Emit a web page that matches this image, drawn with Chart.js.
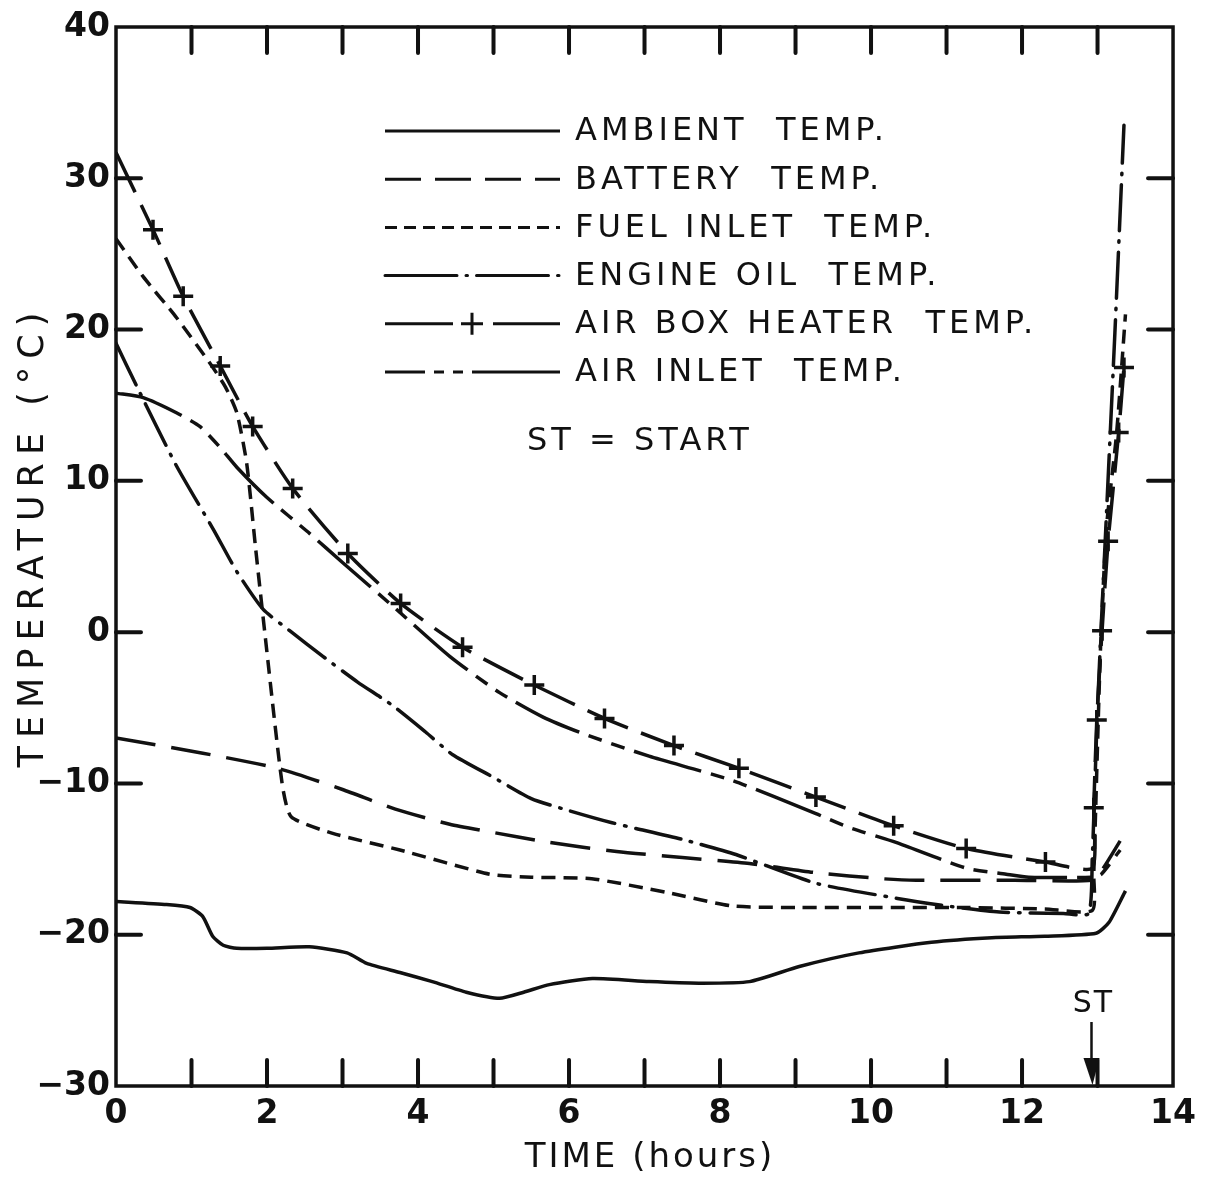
<!DOCTYPE html>
<html>
<head>
<meta charset="utf-8">
<script src="https://cdn.jsdelivr.net/npm/chart.js@4.4.1/dist/chart.umd.min.js"></script>
<style>
  html, body { margin: 0; padding: 0; background: #fff; }
  #chart { display: block; }
</style>
</head>
<body>
<canvas id="chart" width="1205" height="1179"></canvas>
<script>
// values: time in hours, temperature in deg C
const ambientX = [0, 0.67, 0.98, 1.15, 1.28, 1.42, 1.6, 2.0, 2.56, 3.06, 3.32, 3.76, 4.19, 4.64, 5.08, 5.4, 5.74, 6.31, 7.06, 7.72, 8.39, 9.05, 9.84, 10.8, 11.6, 12.3, 12.98, 13.15, 13.37];
const ambientY = [-17.8, -18.0, -18.2, -18.8, -20.1, -20.7, -20.9, -20.9, -20.8, -21.2, -21.9, -22.5, -23.1, -23.8, -24.2, -23.8, -23.3, -22.9, -23.1, -23.2, -23.1, -22.1, -21.2, -20.5, -20.2, -20.1, -19.9, -19.2, -17.1];

const batteryX = [0, 1.15, 2.14, 3.0, 3.7, 4.42, 4.95, 5.74, 6.63, 7.5, 8.39, 9.27, 10.15, 10.6, 11.9, 12.93, 13.05, 13.3];
const batteryY = [-7.0, -8.0, -9.0, -10.4, -11.7, -12.7, -13.2, -13.9, -14.5, -14.9, -15.3, -15.9, -16.3, -16.4, -16.4, -16.4, -15.8, -13.8];

const fuelX = [0, 0.36, 0.8, 1.24, 1.45, 1.6, 1.73, 1.85, 1.97, 2.2, 2.32, 2.87, 3.76, 4.95, 5.5, 6.3, 7.29, 8.16, 9.05, 10.0, 11.26, 12.3, 12.93, 12.95, 13.04, 13.12, 13.25, 13.37];
const fuelY = [26.0, 23.5, 20.8, 17.8, 16.2, 14.5, 11.2, 5.5, 0, -10.0, -12.2, -13.3, -14.4, -16.0, -16.2, -16.3, -17.2, -18.1, -18.2, -18.2, -18.2, -18.3, -18.4, -16.0, -1.0, 7.0, 13.0, 21.0];

const oilX = [0, 0.28, 0.8, 1.3, 1.6, 1.95, 2.3, 2.74, 3.2, 3.65, 4.1, 4.46, 5.0, 5.5, 6.0, 6.57, 7.5, 8.21, 9.27, 10.35, 11.0, 11.7, 12.55, 12.88, 12.93, 13.0, 13.12, 13.23, 13.35];
const oilY = [19.1, 16.2, 11.0, 6.7, 4.0, 1.5, 0.1, -1.6, -3.3, -4.8, -6.6, -8.1, -9.6, -11.0, -11.8, -12.6, -13.7, -14.7, -16.6, -17.6, -18.1, -18.5, -18.6, -18.6, -15.0, -5.0, 8.0, 19.8, 33.5];

const heaterX = [0, 0.49, 0.89, 1.38, 1.81, 2.34, 3.07, 3.77, 4.59, 5.54, 6.47, 7.39, 8.25, 9.27, 10.3, 11.26, 12.31, 12.93, 12.95, 12.99, 13.06, 13.14, 13.28, 13.35];
const heaterY = [31.7, 26.6, 22.2, 17.6, 13.6, 9.5, 5.2, 1.9, -1.0, -3.5, -5.7, -7.5, -9.0, -10.9, -12.8, -14.3, -15.2, -15.6, -11.6, -5.8, 0.1, 6.0, 13.2, 17.5];

const airInletX = [0, 0.36, 0.8, 1.11, 1.38, 1.6, 2.0, 2.57, 3.0, 3.67, 4.42, 5.08, 5.65, 6.18, 7.06, 8.16, 9.27, 9.7, 10.33, 11.26, 11.79, 12.09, 12.93, 13.05, 13.3];
const airInletY = [15.8, 15.5, 14.5, 13.6, 12.2, 10.9, 8.9, 6.5, 4.6, 1.7, -1.6, -4.0, -5.6, -6.7, -8.2, -9.8, -12.0, -12.9, -13.9, -15.6, -16.0, -16.2, -16.2, -16.0, -14.4];

const legendLabels = ['AMBIENT  TEMP.', 'BATTERY  TEMP.', 'FUEL INLET  TEMP.', 'ENGINE OIL  TEMP.', 'AIR BOX HEATER  TEMP.', 'AIR INLET  TEMP.'];
const startHour = 12.92;

const INK = '#111';
const FONT = "'DejaVu Sans', 'Liberation Sans', sans-serif";

function pts(xs, ys) {
  return xs.map((x, i) => ({ x: x, y: ys[i] }));
}

function lineSet(label, xs, ys, dash, legendDash, extra) {
  return Object.assign({
    label: label,
    data: pts(xs, ys),
    borderColor: INK,
    backgroundColor: INK,
    borderWidth: 3.5,
    borderDash: dash,
    legendDash: legendDash,
    tension: 0.2,
    pointRadius: 0,
    fill: false
  }, extra || {});
}

const datasets = [
  lineSet(legendLabels[0], ambientX, ambientY, [], []),
  lineSet(legendLabels[1], batteryX, batteryY, [40, 16], [36, 14]),
  lineSet(legendLabels[2], fuelX, fuelY, [14, 8], [12, 7]),
  lineSet(legendLabels[3], oilX, oilY, [46, 10, 1.5, 10], [72, 9, 1.5, 9], { borderCapStyle: 'round' }),
  lineSet(legendLabels[4], heaterX, heaterY, [44, 14], [68, 40], {
    pointStyle: 'cross',
    pointRadius: ctx => (ctx.dataIndex === 0 || ctx.dataIndex === 17) ? 0 : 10,
    pointBorderWidth: 3.5,
    pointBorderColor: INK
  }),
  lineSet(legendLabels[5], airInletX, airInletY, [70, 10, 14, 10, 14, 10], [40, 9, 10, 9, 10, 9, 88])
];

// draws the closed frame, inward ticks, legend block, axis titles and the ST arrow
const decorPlugin = {
  id: 'decor',
  afterDatasetsDraw(chart) {
    const { ctx, chartArea: a, scales: { x, y } } = chart;
    ctx.save();
    ctx.strokeStyle = INK;
    ctx.fillStyle = INK;
    ctx.setLineDash([]);
    ctx.lineWidth = 3.5;
    ctx.strokeRect(a.left, a.top, a.right - a.left, a.bottom - a.top);

    ctx.lineWidth = 4;
    ctx.lineCap = 'round';
    ctx.beginPath();
    x.ticks.forEach(t => {
      if (t.value <= x.min || t.value >= x.max) return;
      const px = x.getPixelForValue(t.value);
      ctx.moveTo(px, a.top); ctx.lineTo(px, a.top + 26);
      ctx.moveTo(px, a.bottom); ctx.lineTo(px, a.bottom - 26);
    });
    y.ticks.forEach(t => {
      if (t.value <= y.min || t.value >= y.max) return;
      const py = y.getPixelForValue(t.value);
      ctx.moveTo(a.left, py); ctx.lineTo(a.left + 25, py);
      ctx.moveTo(a.right, py); ctx.lineTo(a.right - 25, py);
    });
    ctx.stroke();

    // legend
    ctx.lineCap = 'butt';
    ctx.font = '32px ' + FONT;
    ctx.letterSpacing = '4px';
    ctx.textBaseline = 'middle';
    ctx.textAlign = 'left';
    chart.data.datasets.forEach((ds, i) => {
      const ry = 131 + i * 48.2;
      ctx.lineWidth = 3;
      ctx.lineCap = ds.borderCapStyle || 'butt';
      ctx.setLineDash(ds.legendDash);
      ctx.beginPath();
      ctx.moveTo(385, ry); ctx.lineTo(560, ry);
      ctx.stroke();
      ctx.setLineDash([]);
      if (ds.pointStyle === 'cross') {
        ctx.beginPath();
        ctx.moveTo(472, ry - 11); ctx.lineTo(472, ry + 11);
        ctx.moveTo(461, ry); ctx.lineTo(483, ry);
        ctx.stroke();
      }
      ctx.fillText(ds.label, 575, ry + 1);
    });
    ctx.fillText('ST = START', 527, 442);

    // axis titles
    ctx.font = '34px ' + FONT;
    ctx.letterSpacing = '3px';
    ctx.textAlign = 'center';
    ctx.fillText('TIME (hours)', 650, 1158);
    ctx.save();
    ctx.translate(34, 536);
    ctx.rotate(-Math.PI / 2);
    ctx.font = '35px ' + FONT;
    ctx.letterSpacing = '8px';
    ctx.fillText('TEMPERATURE (°C)', 0, 0);
    ctx.restore();

    // start marker
    const sx = x.getPixelForValue(startHour);
    ctx.font = '30px ' + FONT;
    ctx.letterSpacing = '2px';
    ctx.fillText('ST', sx + 2, 1004);
    ctx.lineWidth = 2.5;
    ctx.beginPath();
    ctx.moveTo(sx, 1022); ctx.lineTo(sx, 1062);
    ctx.stroke();
    ctx.beginPath();
    ctx.moveTo(sx - 8, 1058); ctx.lineTo(sx + 8, 1058); ctx.lineTo(sx + 1, a.bottom - 1);
    ctx.closePath();
    ctx.fill();
    ctx.restore();
  }
};

new Chart(document.getElementById('chart'), {
  type: 'line',
  data: { datasets: datasets },
  options: {
    responsive: false,
    animation: false,
    events: [],
    layout: { padding: { top: 27, right: 30, left: 0, bottom: 0 } },
    plugins: { legend: { display: false }, tooltip: { enabled: false } },
    scales: {
      x: {
        type: 'linear',
        min: 0,
        max: 14,
        grid: { display: false, drawTicks: false },
        border: { display: false },
        ticks: {
          stepSize: 1,
          autoSkip: false,
          maxRotation: 0,
          padding: 9,
          color: INK,
          font: { family: FONT, size: 33, weight: 'bold' },
          callback: v => (v % 2 === 0 ? String(v) : '')
        },
        afterFit: s => { s.height = 93; }
      },
      y: {
        min: -30,
        max: 40,
        grid: { display: false, drawTicks: false },
        border: { display: false },
        ticks: {
          stepSize: 10,
          padding: 6,
          color: INK,
          font: { family: FONT, size: 33, weight: 'bold' },
          callback: v => (v < 0 ? '\u2212' + Math.abs(v) : String(v))
        },
        afterFit: s => { s.width = 116; }
      }
    }
  },
  plugins: [decorPlugin]
});
</script>
</body>
</html>
